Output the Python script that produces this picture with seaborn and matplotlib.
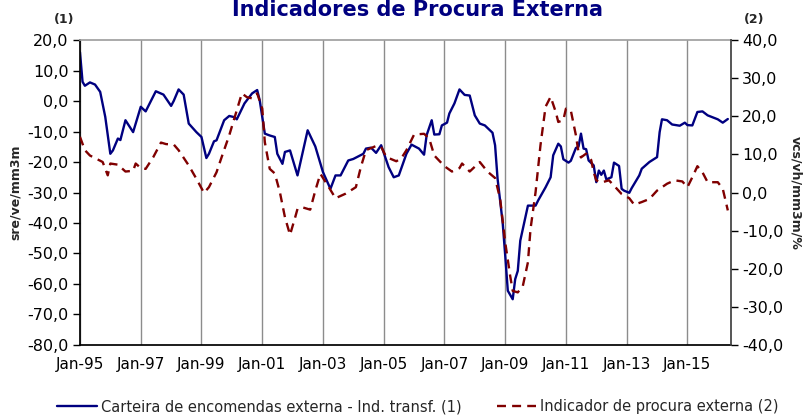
import matplotlib
matplotlib.use('Agg')
import matplotlib.pyplot as plt
import matplotlib.dates as mdates
from matplotlib.ticker import FuncFormatter, MultipleLocator
import seaborn as sns
import pandas as pd

# Carteira de encomendas externa - Ind. transf. (1), eixo esquerdo
datas_carteira = [
    '1995-01', '1995-02', '1995-03', '1995-05', '1995-07', '1995-09', '1995-11', '1996-01',
    '1996-02', '1996-04', '1996-05', '1996-07', '1996-10', '1997-01', '1997-03', '1997-07',
    '1997-10', '1998-01', '1998-02', '1998-04', '1998-06', '1998-08', '1998-11', '1999-01',
    '1999-03', '1999-04', '1999-06', '1999-07', '1999-10', '1999-12', '2000-02', '2000-03',
    '2000-06', '2000-09', '2000-11', '2000-12', '2001-02', '2001-04', '2001-06', '2001-07',
    '2001-09', '2001-10', '2001-12', '2002-03', '2002-07', '2002-09', '2002-10', '2003-01',
    '2003-04', '2003-06', '2003-08', '2003-11', '2004-01', '2004-05', '2004-06', '2004-08',
    '2004-10', '2004-12', '2005-03', '2005-05', '2005-07', '2005-10', '2005-12', '2006-03',
    '2006-05', '2006-06', '2006-08', '2006-09', '2006-11', '2006-12', '2007-02', '2007-03',
    '2007-05', '2007-07', '2007-09', '2007-11', '2008-01', '2008-03', '2008-05', '2008-08',
    '2008-09', '2008-10', '2008-12', '2009-01', '2009-02', '2009-04', '2009-05', '2009-06',
    '2009-07', '2009-10', '2010-01', '2010-02', '2010-05', '2010-07', '2010-08', '2010-10',
    '2010-11', '2010-12', '2011-02', '2011-03', '2011-05', '2011-06', '2011-07', '2011-08',
    '2011-09', '2011-10', '2011-12', '2012-01', '2012-02', '2012-03', '2012-04', '2012-05',
    '2012-07', '2012-08', '2012-10', '2012-11', '2012-12', '2013-02', '2013-03', '2013-06',
    '2013-07', '2013-10', '2014-01', '2014-02', '2014-03', '2014-05', '2014-07', '2014-10',
    '2014-12', '2015-01', '2015-03', '2015-05', '2015-07', '2015-09', '2016-01', '2016-03',
    '2016-05',
]
valores_carteira = [
    16.0, 6.3, 5.0, 6.1, 5.4, 3.0, -5.2, -17.3,
    -16.2, -12.3, -12.8, -6.3, -10.2, -1.9, -3.4, 3.2,
    2.1, -1.6, 0.0, 3.8, 2.1, -7.4, -10.2, -11.8,
    -18.7, -17.3, -13.2, -12.9, -6.3, -4.9, -5.3, -6.0,
    -0.8, 2.5, 3.6, 0.3, -10.7, -11.3, -11.8, -17.3,
    -20.6, -16.7, -16.2, -24.4, -9.6, -13.2, -14.9, -23.3,
    -28.8, -24.4, -24.4, -19.5, -19.0, -17.3, -15.6, -15.3,
    -17.0, -14.5, -21.7, -25.0, -24.4, -17.3, -14.3, -15.6,
    -17.6, -11.2, -6.3, -11.0, -10.9, -8.0, -7.1, -4.1,
    -0.8, 3.8, 2.0, 1.8, -4.7, -7.4, -8.0, -10.4,
    -14.5, -25.5, -39.8, -50.7, -62.2, -65.0, -58.4, -55.7,
    -45.8, -34.3, -34.3, -32.6, -28.3, -25.0, -17.8, -14.0,
    -14.9, -19.1, -20.2, -19.6, -15.4, -15.0, -10.7, -15.6,
    -15.8, -19.5, -21.1, -26.6, -22.8, -24.2, -22.8, -25.7,
    -25.0, -20.2, -21.3, -28.8, -29.4, -30.1, -28.6, -24.4,
    -22.2, -20.0, -18.4, -10.2, -6.0, -6.3, -7.7, -8.1,
    -7.1, -7.9, -8.0, -3.6, -3.4, -4.7, -6.0, -7.1,
    -5.9,
]

# Indicador de procura externa (2), eixo direito
datas_procura = [
    '1995-01', '1995-03', '1995-05', '1995-10', '1995-12', '1996-01', '1996-04', '1996-07',
    '1996-10', '1996-11', '1997-01', '1997-03', '1997-06', '1997-09', '1997-11', '1998-02',
    '1998-04', '1998-08', '1998-11', '1999-02', '1999-04', '1999-07', '1999-09', '1999-12',
    '2000-03', '2000-05', '2000-07', '2000-09', '2000-11', '2001-01', '2001-02', '2001-04',
    '2001-06', '2001-08', '2001-10', '2001-12', '2002-02', '2002-03', '2002-05', '2002-08',
    '2002-10', '2002-12', '2003-03', '2003-06', '2003-08', '2003-10', '2004-02', '2004-04',
    '2004-06', '2004-10', '2004-12', '2005-02', '2005-06', '2005-08', '2005-10', '2006-01',
    '2006-05', '2006-07', '2006-09', '2007-01', '2007-04', '2007-07', '2007-08', '2007-11',
    '2008-03', '2008-06', '2008-09', '2008-11', '2009-01', '2009-03', '2009-04', '2009-06',
    '2009-08', '2009-10', '2009-11', '2010-01', '2010-03', '2010-05', '2010-07', '2010-09',
    '2010-10', '2010-12', '2011-01', '2011-03', '2011-05', '2011-06', '2011-07', '2011-09',
    '2011-11', '2011-12', '2012-01', '2012-03', '2012-06', '2012-08', '2012-11', '2013-02',
    '2013-04', '2013-07', '2013-10', '2014-01', '2014-05', '2014-08', '2014-11', '2015-01',
    '2015-03', '2015-05', '2015-07', '2015-09', '2016-01', '2016-03', '2016-05',
]
valores_procura = [
    14.6, 11.1, 9.7, 8.0, 4.5, 7.6, 7.3, 5.5,
    5.7, 7.6, 6.4, 6.2, 9.3, 13.1, 12.7, 12.6,
    11.1, 7.1, 3.6, -0.1, 1.4, 5.3, 9.3, 15.0,
    21.6, 26.0, 25.0, 24.7, 26.0, 22.0, 13.2, 6.2,
    5.0, 0.1, -6.5, -11.1, -6.5, -4.3, -3.9, -4.5,
    0.5, 4.9, 1.8, -1.5, -0.9, -0.3, 1.4, 6.7,
    11.1, 12.2, 12.0, 9.3, 8.2, 9.0, 11.1, 15.2,
    15.4, 14.2, 9.7, 6.9, 5.5, 6.4, 7.6, 5.5,
    8.0, 5.5, 3.8, -1.7, -13.1, -21.8, -25.8, -26.2,
    -24.5, -18.3, -9.6, 0.1, 12.4, 22.5, 25.1, 21.1,
    18.5, 19.0, 22.0, 21.5, 15.0, 10.6, 9.2, 10.2,
    8.5, 5.3, 3.2, 2.6, 3.2, 1.8, -0.4, -1.5,
    -3.2, -2.5, -1.7, 0.5, 2.3, 3.2, 2.9, 1.4,
    4.0, 6.9, 5.3, 2.7, 2.7, 1.0, -4.7,
]

ticks_x = ['1995-01', '1997-01', '1999-01', '2001-01', '2003-01', '2005-01',
           '2007-01', '2009-01', '2011-01', '2013-01', '2015-01']

df_c = pd.DataFrame({'data': pd.to_datetime(datas_carteira), 'valor': valores_carteira})
df_p = pd.DataFrame({'data': pd.to_datetime(datas_procura), 'valor': valores_procura})

sns.set_theme(style='white')
plt.rcParams['font.family'] = ['DejaVu Sans']

azul = '#000080'
vermelho = '#800000'

fig = plt.figure(figsize=(8.07, 4.16), dpi=100)
ax = fig.add_axes([0.0991, 0.1707, 0.8064, 0.7331])
ax2 = ax.twinx()

sns.lineplot(data=df_c, x='data', y='valor', color=azul, lw=1.7, ax=ax,
             label='Carteira de encomendas externa - Ind. transf. (1)', legend=False)
sns.lineplot(data=df_p, x='data', y='valor', color=vermelho, lw=1.7, ax=ax2,
             linestyle=(0, (3.8, 2.6)), label='Indicador de procura externa (2)', legend=False)

ax.set_xlim(pd.Timestamp('1995-01-01'), pd.Timestamp('2016-06-05'))
ax.set_ylim(-80, 20)
ax2.set_ylim(-40, 40)
ax.yaxis.set_major_locator(MultipleLocator(10))
ax2.yaxis.set_major_locator(MultipleLocator(10))
fmt = FuncFormatter(lambda v, p: f'{v:.1f}'.replace('.', ','))
ax.yaxis.set_major_formatter(fmt)
ax2.yaxis.set_major_formatter(fmt)

ax.set_xticks(pd.to_datetime(ticks_x))
ax.xaxis.set_major_formatter(mdates.DateFormatter('%b-%y'))
ax.grid(True, axis='x', color='#8c8c8c', lw=1)
ax.grid(False, axis='y')
ax2.grid(False)

for a in (ax, ax2):
    a.tick_params(axis='both', direction='out', length=5, width=1, labelsize=11.5,
                  colors='black', pad=3)
    a.set_xlabel('')
    a.set_ylabel('')
ax.tick_params(axis='x', labelsize=11, pad=4)

ax.spines['left'].set_color('black')
ax.spines['bottom'].set_color('black')
ax.spines['top'].set_color('#a0a0a0')
ax2.spines['top'].set_visible(False)
ax2.spines['right'].set_color('#404040')
ax2.spines['left'].set_visible(False)
ax.spines['right'].set_visible(False)
ax2.spines['bottom'].set_visible(False)

ax.set_ylabel('sre/ve/mm3m', fontsize=9, fontweight='bold', labelpad=4)
ax2.set_ylabel('vcs/vh/mm3m/%', fontsize=9, fontweight='bold', rotation=270, labelpad=14)

fig.text(417 / 807, 1 - 16 / 416, 'Indicadores de Procura Externa', ha='center', va='baseline',
         fontsize=15, fontweight='bold', color=azul)
fig.text(64 / 807, 1 - 20 / 416, '(1)', ha='center', va='center', fontsize=9, fontweight='bold')
fig.text(754 / 807, 1 - 20 / 416, '(2)', ha='center', va='center', fontsize=9, fontweight='bold')

h1, l1 = ax.get_legend_handles_labels()
h2, l2 = ax2.get_legend_handles_labels()
fig.legend(h1 + h2, l1 + l2, loc='center', bbox_to_anchor=(418 / 807, 1 - 407 / 416),
           ncol=2, frameon=False, fontsize=10.5, handlelength=2.7, columnspacing=2.4,
           handletextpad=0.3)

fig.savefig('out.png', dpi=100, facecolor='white')
